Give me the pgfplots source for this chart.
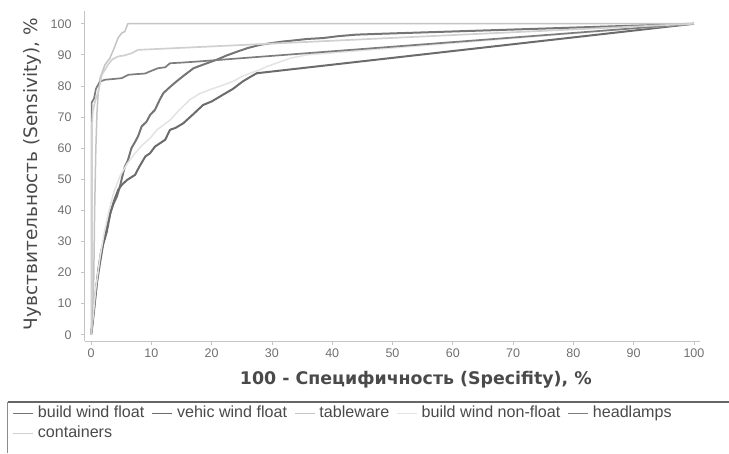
\documentclass[border=0pt]{standalone}
\usepackage{fontspec}
\setmainfont{Liberation Sans}
\newfontfamily\dejavu{DejaVu Sans}
\usepackage{pgfplots}
\pgfplotsset{compat=1.18}
\usetikzlibrary{calc}
\definecolor{axgray}{HTML}{C4C4C4}
\definecolor{tickgray}{HTML}{707070}
\definecolor{labgray}{HTML}{4A4A4A}
\definecolor{cbwf}{HTML}{757575}
\definecolor{cvwf}{HTML}{6B6B6B}
\definecolor{ctab}{HTML}{C4C4C4}
\definecolor{cbwn}{HTML}{E3E3E3}
\definecolor{chead}{HTML}{7D7D7D}
\definecolor{ccont}{HTML}{D0D0D0}
\begin{document}
\begin{tikzpicture}
\begin{axis}[
  scale only axis, width=615pt, height=329.7pt,
  xmin=-1, xmax=101, ymin=-2, ymax=104,
  axis x line=bottom, axis y line=left,
  axis line style={draw=axgray, line width=1pt, -},
  xtick={0,10,...,100}, ytick={0,10,...,100},
  tick align=outside, major tick length=4pt,
  tick style={draw=axgray, line width=0.8pt},
  tick label style={font=\fontsize{12.5}{14}\selectfont, text=tickgray},
  yticklabel style={xshift=-6pt},
  /pgf/number format/assume math mode=true,
  xlabel={\dejavu\bfseries 100 - Специфичность (Specifity), \%},
  xlabel style={font=\fontsize{17.4}{20}\selectfont, text=labgray,
    at={(axis description cs:0.538,-0.118)}, anchor=center},
  ylabel={\dejavu Чувствительность (Sensivity), \%},
  ylabel style={font=\fontsize{18.5}{20}\selectfont, text=labgray,
    at={(axis description cs:-0.086,0.5065)}, anchor=center, rotate=0},
  legend columns=5,
  legend cell align=left,
  legend image code/.code={\draw[#1, line width=1.3pt] (0pt,0pt) -- (20pt,0pt); \path (22pt,0pt);},
  legend style={at={(axis description cs:-0.1187,-0.188)}, anchor=north west,
    draw=none, fill=none, inner sep=0pt, text=labgray,
    font=\fontsize{16.1}{18}\selectfont,
    nodes={text height=11.5pt, text depth=3.5pt, inner ysep=2.5pt, inner xsep=2pt},
    /tikz/every even column/.append style={column sep=5pt}},
  every axis plot/.append style={line join=round},
]
% build wind float
\addplot[cbwf, line width=2pt] coordinates {
(0,0)(0.1,1)(0.5,8)(0.8,14)(1.2,21)(1.7,27)(2.3,31.6)(3.15,39)(3.7,42)(4.3,44.5)
(4.8,47.7)(5.2,51)(5.6,54)(6.1,56)(6.7,60)(7.3,62)(7.8,63.8)(8.4,67)(9.2,68.5)
(9.8,70.7)(10.6,72.3)(11.4,75.6)(12,77.7)(13,79.5)(14.2,81.5)(15.5,83.5)(17,85.7)
(18.8,87)(20.8,88.4)(22.5,89.8)(24.2,91)(26,92.2)(28,93.2)(30,93.8)(31.9,94.3)
(33,94.5)(35.8,95.1)(38.5,95.4)(41,96)(44,96.5)(48.5,96.8)(100,100)};
\addlegendentry{build wind float}
% vehic wind float
\addplot[cvwf, line width=2pt] coordinates {
(0,0)(0.2,3)(0.6,10)(1,17)(1.4,22)(2,29)(2.6,33)(3.2,39)(3.8,43)(4.5,46.6)
(5.1,48.2)(6,49.8)(7.3,51.4)(8,54)(9,57.3)(9.8,58.4)(10.6,60.5)(12.3,62.7)
(13.1,65.9)(14,66.5)(15.3,68)(17,71)(18.6,73.9)(20,75)(21.9,77.2)(23.5,79)
(25.2,81.5)(26.5,83)(27.5,84.1)(28,84.2)(100,100)};
\addlegendentry{vehic wind float}
% tableware
\addplot[ctab, line width=1.5pt] coordinates {
(0,0)(0.4,10)(0.6,40)(0.8,60)(1.0,72)(1.2,78)(1.5,82.6)(2.3,86.8)(3.15,89)
(3.8,92)(4.5,95.5)(5.1,97)(5.6,97.5)(6.1,100)(100,100)};
\addlegendentry{tableware}
% build wind non-float
\addplot[cbwn, line width=1.5pt] coordinates {
(0,0)(0.3,5)(0.8,15)(1.5,25)(2.2,33)(3,40)(3.8,46)(4.8,51)(6,55)(7.3,58.4)
(8.5,61)(9.8,63.2)(11,66)(13.1,69)(14.5,72)(16.4,75.6)(18,77.5)(19.7,78.8)
(21.5,80)(23.6,81.5)(25,83)(26.4,84.1)(27.8,85)(29.1,86.2)(31,87.5)(33,88.9)
(35.8,90)(100,100)};
\addlegendentry{build wind non-float}
% headlamps
\addplot[chead, line width=1.7pt] coordinates {
(0,0)(0.1,2)(0.1,74.6)(0.5,76)(0.8,79)(1.2,80.5)(1.5,81.4)(2.3,82)(3.5,82.2)(5.1,82.5)
(6.2,83.6)(7.5,83.8)(9,84)(9.8,84.7)(11.1,85.7)(12.3,86)(13.1,87.3)(15,87.5)
(18,87.9)(100,100)};
\addlegendentry{headlamps}
% containers
\addplot[ccont, line width=1.7pt] coordinates {
(0,0)(0.1,2)(0.1,66)(0.3,72)(0.8,76)(1.2,78)(1.8,83.6)(2.8,86.8)(3.5,88.5)(4.5,89.5)
(5.5,89.8)(6.7,90.5)(7.8,91.6)(100,100)};
\addlegendentry{containers}
\end{axis}
\draw[draw=black!60, line width=1.5pt] ($(current axis.south west)+(-77pt,-61pt)$) -- ($(current axis.south east)+(29pt,-61pt)$);
\draw[draw=black!45, line width=1pt] ($(current axis.south west)+(-77pt,-61pt)$) -- ($(current axis.south west)+(-77pt,-112pt)$);
\pgfresetboundingbox
\path[use as bounding box] ($(current axis.south west)+(-85pt,-112pt)$) rectangle ($(current axis.north east)+(29pt,11.3pt)$);
\end{tikzpicture}
\end{document}
